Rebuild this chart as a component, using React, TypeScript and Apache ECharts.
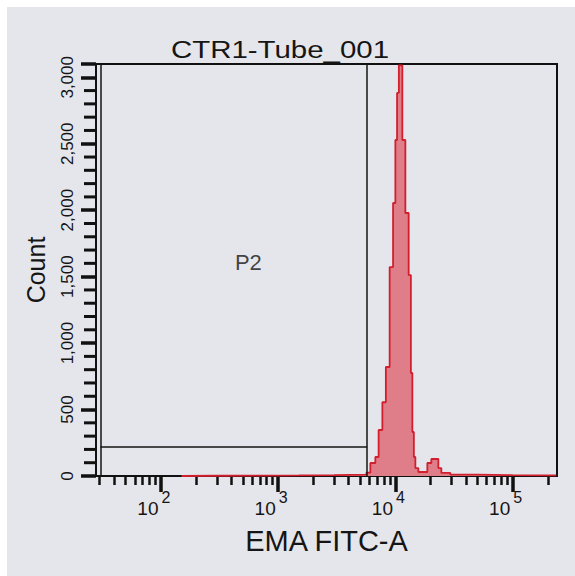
import React, { useEffect, useRef } from "react";
import * as echarts from "echarts";

// ---- texts ----
const titleText = "CTR1-Tube_001";
const xAxisName = "EMA FITC-A";
const yAxisName = "Count";
const gateName = "P2";

// ---- histogram bins (log-spaced edges on EMA FITC-A, counts per bin) ----
const binEdges = [
  150, 300, 700, 1500, 3000,
  5660, 6120, 6750, 7200, 7750, 8300, 8940, 9560, 10000, 10340,
  10710, 11470, 12170, 12990, 13560, 13960, 14380, 14810, 15710, 18740,
  20270, 23260, 24670, 29440, 50000, 100000, 235000,
];
const binCounts = [
  2, 3, 4, 6, 10,
  25, 98, 143, 346, 555, 820, 1572, 2054, 2528, 2882,
  3090, 2528, 1979, 1512, 775, 331, 143, 60, 30, 98,
  128, 60, 23, 10, 6, 4,
];

// ---- gate P2 ----
const gateRange = [30.5, 5740];
const gateLevel = 222;
const gateLabelAt = [558, 1610];

// ---- axes ----
const xRange = [28, 239000];
const xMajorTicks = [100, 1000, 10000, 100000];
const xMinorTicks = [
  30, 40, 50, 60, 70, 80, 90,
  200, 300, 400, 500, 600, 700, 800, 900,
  2000, 3000, 4000, 5000, 6000, 7000, 8000, 9000,
  20000, 30000, 40000, 50000, 60000, 70000, 80000, 90000,
  200000,
];
const yMax = 3100;
const yLabelValues = [0, 500, 1000, 1500, 2000, 2500, 3000];
const yMajorTicks = [0, 500, 1000, 1500, 2000, 2500, 3000, 3100];
const yMinorTicks = [
  100, 200, 300, 400, 600, 700, 800, 900,
  1100, 1200, 1300, 1400, 1600, 1700, 1800, 1900,
  2100, 2200, 2300, 2400, 2600, 2700, 2800, 2900,
];

const font = "'Liberation Sans', Arial, Helvetica, sans-serif";
const ink = "#111111";
const textInk = "#151515";
const paper = "#e5e6eb";

export default function App() {
  const ref = useRef<HTMLDivElement>(null);

  useEffect(() => {
    if (!ref.current) return;
    const chart = echarts.init(ref.current, null, { renderer: "svg" });

    const histData: number[][] = [[binEdges[0], 0]];
    binCounts.forEach((c, i) => histData.push([binEdges[i], c]));
    histData.push([binEdges[binEdges.length - 1], 0]);

    const titleGraphic = {
      id: "title",
      type: "text",
      x: 273,
      y: 43,
      scaleX: 1.28,
      style: {
        text: titleText,
        fontSize: 23,
        fontFamily: font,
        fill: textInk,
        align: "center",
        verticalAlign: "middle",
      },
    };

    const option: any = {
      animation: false,
      backgroundColor: paper,
      graphic: [titleGraphic],
      grid: {
        left: 89,
        right: 18,
        top: 57,
        bottom: 100,
        show: true,
        borderColor: ink,
        borderWidth: 2,
        backgroundColor: paper,
      },
      xAxis: [
        {
          type: "log",
          logBase: 10,
          min: xRange[0],
          max: xRange[1],
          position: "bottom",
          name: xAxisName,
          nameLocation: "middle",
          nameGap: 50,
          nameTextStyle: { fontSize: 29, fontFamily: font, color: textInk },
          axisLine: { show: true, lineStyle: { color: ink, width: 2 } },
          axisTick: { show: true, customValues: xMajorTicks, length: 16, lineStyle: { color: ink, width: 3.5 } },
          axisLabel: {
            show: true,
            customValues: xMajorTicks,
            margin: 18,
            formatter: (v: number) => `{b|10}{s|${Math.round(Math.log10(v))}}`,
            rich: {
              b: { fontSize: 19, fontFamily: font, color: textInk, lineHeight: 19, padding: [10, 0, 0, 0] },
              s: { fontSize: 16, fontFamily: font, color: textInk, lineHeight: 16, padding: [0, 14, 13, 3] },
            },
          },
          splitLine: { show: false },
          minorTick: { show: false },
        },
        {
          type: "log",
          logBase: 10,
          min: xRange[0],
          max: xRange[1],
          position: "bottom",
          axisLine: { show: false },
          axisTick: { show: true, customValues: xMinorTicks, length: 9, lineStyle: { color: ink, width: 2.5 } },
          axisLabel: { show: false },
          splitLine: { show: false },
        },
      ],
      yAxis: [
        {
          type: "value",
          min: 0,
          max: yMax,
          interval: 500,
          position: "left",
          name: yAxisName,
          nameLocation: "middle",
          nameGap: 48,
          nameTextStyle: { fontSize: 25, fontFamily: font, color: textInk },
          axisLine: { show: true, lineStyle: { color: ink, width: 2 } },
          axisTick: { show: true, customValues: yMajorTicks, length: 15, lineStyle: { color: ink, width: 3.5 } },
          axisLabel: {
            customValues: yLabelValues,
            rotate: 90,
            fontSize: 17,
            fontFamily: font,
            color: textInk,
            margin: 20,
            formatter: (v: number) => Number(v).toLocaleString("en-US"),
          },
          splitLine: { show: false },
        },
      ],
      series: [
        {
          type: "line",
          xAxisIndex: 0,
          yAxisIndex: 0,
          step: "end",
          symbol: "none",
          data: histData,
          lineStyle: { color: "#d11f2d", width: 1.8 },
          areaStyle: { color: "#df7d88", opacity: 1 },
          z: 3,
          markLine: {
            silent: true,
            symbol: ["none", "none"],
            label: { show: false },
            lineStyle: { color: textInk, width: 1.5, type: "solid" },
            data: [
              { xAxis: gateRange[0] },
              { xAxis: gateRange[1] },
              [{ coord: [gateRange[0], gateLevel] }, { coord: [gateRange[1], gateLevel] }],
            ],
          },
        },
        {
          type: "scatter",
          xAxisIndex: 0,
          yAxisIndex: 0,
          data: [gateLabelAt],
          symbolSize: 0,
          itemStyle: { color: "transparent" },
          silent: true,
          label: {
            show: true,
            formatter: gateName,
            position: "inside",
            fontSize: 22,
            fontFamily: font,
            color: textInk,
          },
        },
      ],
    };

    chart.setOption(option);

    // minor y tick marks placed through the chart's own scale
    const ticks: any[] = [];
    yMinorTicks.forEach((v, i) => {
      const p = chart.convertToPixel({ gridIndex: 0 } as any, [xRange[0], v]) as number[];
      if (p && isFinite(p[0]) && isFinite(p[1])) {
        ticks.push({
          id: `ymin${i}`,
          type: "line",
          z: 50,
          silent: true,
          shape: { x1: p[0] - 12, y1: p[1], x2: p[0], y2: p[1] },
          style: { stroke: ink, lineWidth: 3 },
        });
      }
    });
    chart.setOption({ graphic: [titleGraphic, ...ticks] });

    return () => chart.dispose();
  }, []);

  return (
    <div style={{ position: "absolute", left: 0, top: 0, width: 575, height: 576, background: "#ffffff" }}>
      <div ref={ref} style={{ position: "absolute", left: 7, top: 7, width: 568, height: 569 }} />
    </div>
  );
}
